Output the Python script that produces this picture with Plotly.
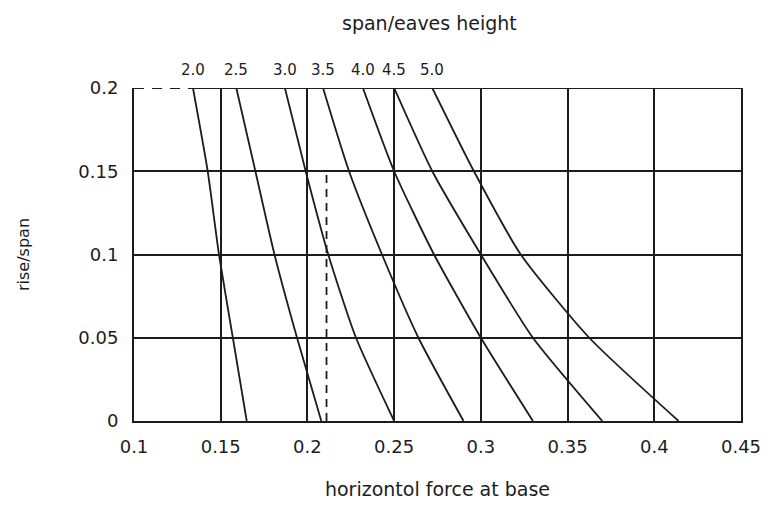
import plotly.graph_objects as go

# ---- data ----
rise_span = [0.2, 0.15, 0.1, 0.05, 0.0]
span_eaves = ["2.0", "2.5", "3.0", "3.5", "4.0", "4.5", "5.0"]
force_2_0 = [0.134, 0.1425, 0.149, 0.157, 0.165]
force_2_5 = [0.159, 0.170, 0.181, 0.194, 0.208]
force_3_0 = [0.187, 0.199, 0.212, 0.228, 0.250]
force_3_5 = [0.209, 0.224, 0.243, 0.264, 0.290]
force_4_0 = [0.232, 0.250, 0.273, 0.300, 0.330]
force_4_5 = [0.250, 0.272, 0.300, 0.330, 0.370]
force_5_0 = [0.272, 0.296, 0.323, 0.3625, 0.414]
curves = [force_2_0, force_2_5, force_3_0, force_3_5, force_4_0, force_4_5, force_5_0]

dashed_x = 0.211
dashed_y = [0.0, 0.15]

x_range = [0.1, 0.45]
y_range = [0.0, 0.2]
x_ticks = [0.1, 0.15, 0.2, 0.25, 0.3, 0.35, 0.4, 0.45]
x_ticklabels = ["0.1", "0.15", "0.2", "0.25", "0.3", "0.35", "0.4", "0.45"]
y_ticks = [0, 0.05, 0.1, 0.15, 0.2]
y_ticklabels = ["0", "0.05", "0.1", "0.15", "0.2"]

INK = "#1c1c1c"
FONT = "DejaVu Sans"

fig = go.Figure()

for name, xs in zip(span_eaves, curves):
    fig.add_trace(go.Scatter(
        x=xs, y=rise_span, mode="lines", name=name,
        line=dict(color=INK, width=1.8, shape="spline", smoothing=0.6),
        hoverinfo="name+x+y", showlegend=False))

# dashed reference line
fig.add_trace(go.Scatter(
    x=[dashed_x, dashed_x], y=dashed_y, mode="lines",
    line=dict(color=INK, width=1.8, dash="8px,6px"),
    showlegend=False, hoverinfo="skip"))

# top border: dashed up to the first curve, solid afterwards
fig.add_trace(go.Scatter(
    x=[x_range[0], force_2_0[0]], y=[y_range[1], y_range[1]], mode="lines",
    line=dict(color=INK, width=1.8, dash="10px,8px"),
    showlegend=False, hoverinfo="skip"))
fig.add_trace(go.Scatter(
    x=[force_2_0[0], x_range[1]], y=[y_range[1], y_range[1]], mode="lines",
    line=dict(color=INK, width=1.9),
    showlegend=False, hoverinfo="skip", cliponaxis=False))

# curve labels along the top
for name, xs in zip(span_eaves, curves):
    fig.add_annotation(x=xs[0], y=rise_span[0], text=name, showarrow=False,
                       xanchor="center", yanchor="bottom", yshift=7,
                       font=dict(family=FONT, size=15, color=INK))

# top title
fig.add_annotation(xref="paper", yref="paper", x=0.487, y=1, text="span/eaves height",
                   showarrow=False, xanchor="center", yanchor="bottom", yshift=52,
                   font=dict(family=FONT, size=19, color=INK))

fig.update_layout(
    width=762, height=497,
    margin=dict(l=126, r=29, t=80, b=84),
    paper_bgcolor="white", plot_bgcolor="white",
    font=dict(family=FONT, color=INK),
    xaxis=dict(range=x_range, tickvals=x_ticks, ticktext=x_ticklabels,
               automargin=False,
               showgrid=True, gridcolor=INK, gridwidth=1.8,
               showline=True, linecolor=INK, linewidth=1.9, mirror=False,
               zeroline=False, ticks="", ticklabelstandoff=8,
               tickfont=dict(family=FONT, size=18, color=INK),
               title=dict(text="horizontol force at base", standoff=27,
                          font=dict(family=FONT, size=19, color=INK))),
    yaxis=dict(range=y_range, tickvals=y_ticks, ticktext=y_ticklabels,
               automargin=False,
               showgrid=True, gridcolor=INK, gridwidth=1.8,
               showline=True, linecolor=INK, linewidth=1.9, mirror=True,
               zeroline=False, ticks="", ticklabelstandoff=10,
               tickfont=dict(family=FONT, size=18, color=INK),
               title=dict(text="rise/span", standoff=45,
                          font=dict(family=FONT, size=16, color=INK))),
)

fig.write_html("out.html")
